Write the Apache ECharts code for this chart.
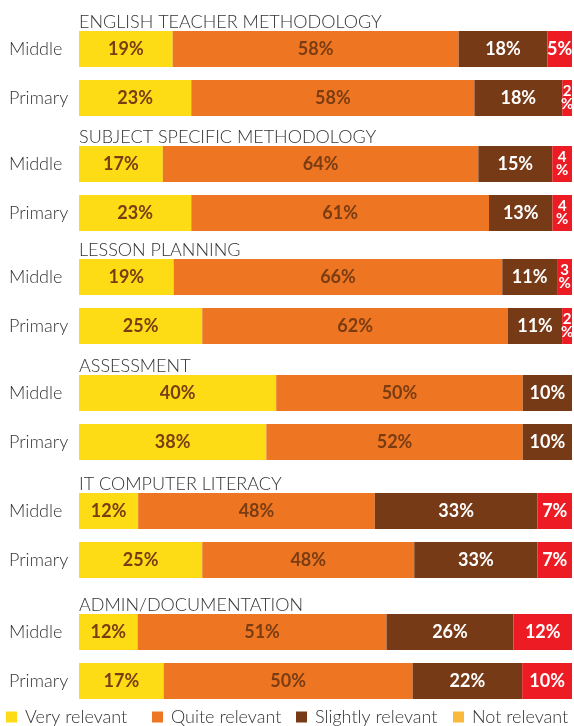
<!DOCTYPE html>
<html>
<head>
<meta charset="utf-8">
<script src="https://cdn.jsdelivr.net/npm/echarts@6/dist/echarts.min.js"></script>
<style>
html, body { margin: 0; padding: 0; background: #fff; }
#main { width: 574px; height: 726px; }
</style>
</head>
<body>
<div id="main"></div>
<script>
// topics, top to bottom
var groups = ['ENGLISH TEACHER METHODOLOGY', 'SUBJECT SPECIFIC METHODOLOGY', 'LESSON PLANNING',
              'ASSESSMENT', 'IT COMPUTER LITERACY', 'ADMIN/DOCUMENTATION'];
var levels = ['Middle', 'Primary'];
var seriesNames = ['Very relevant', 'Quite relevant', 'Slightly relevant', 'Not relevant'];

// printed percentages, one entry per bar (Middle, Primary for each topic)
var veryRelevant     = [19, 23, 17, 23, 19, 25, 40, 38, 12, 25, 12, 17];
var quiteRelevant    = [58, 58, 64, 61, 66, 62, 50, 52, 48, 48, 51, 50];
var slightlyRelevant = [18, 18, 15, 13, 11, 11, 10, 10, 33, 33, 26, 22];
var notRelevant      = [ 5,  2,  4,  4,  3,  2,  0,  0,  7,  7, 12, 10];
// IT primary bar is drawn with these lengths in the source, not its printed ones
var drawnOverride = { 9: [25, 43, 25, 7] };

var colors = ['#FDDC15', '#EE7623', '#773A17', '#ED1C24'];
var legendColors = ['#FDDC15', '#EE7623', '#773A17', '#F8B93C'];
var labelColors = ['#7A3C12', '#7A3C12', '#ffffff', '#ffffff'];
var font = 'Lato';

// centre of the Middle bar of every topic
var groupCenter = [49, 164, 277, 393, 511, 632];
var legendLeft = [6, 152, 296, 453];

var allValues = [veryRelevant, quiteRelevant, slightlyRelevant, notRelevant];

var myChart = echarts.init(document.getElementById('main'));

var grids = [], xAxes = [], yAxes = [], titles = [], series = [], legends = [];

groups.forEach(function (name, g) {
    grids.push({ left: 79, right: 2, top: groupCenter[g] - 24.5, height: 98 });
    xAxes.push({ gridIndex: g, type: 'value', min: 0, max: 100, show: false });
    yAxes.push({
        gridIndex: g, type: 'category', data: levels, inverse: true,
        axisLine: { show: false }, axisTick: { show: false },
        axisLabel: { align: 'left', margin: 70, fontSize: 18, color: '#333',
                     fontFamily: font, fontWeight: 300 }
    });
    titles.push({
        text: name, left: 79, top: groupCenter[g] - 36, padding: 0,
        textStyle: { fontSize: 18, color: '#333', fontFamily: font, fontWeight: 300 }
    });

    seriesNames.forEach(function (sName, s) {
        var data = [0, 1].map(function (k) {
            var row = 2 * g + k;
            var printed = allValues[s][row];
            var total = 0;
            allValues.forEach(function (arr) { total += arr[row]; });
            var len = drawnOverride[row] ? drawnOverride[row][s] : printed / total * 100;
            var item = { value: len, printed: printed };
            if (printed > 0 && printed <= 4) {
                item.label = { fontSize: 15, lineHeight: 13 };
            }
            return item;
        });
        series.push({
            name: sName,
            type: 'bar',
            stack: 'g' + g,
            xAxisIndex: g,
            yAxisIndex: g,
            barWidth: 36,
            data: data,
            itemStyle: { color: colors[s] },
            label: {
                show: true,
                position: 'inside',
                color: labelColors[s],
                fontSize: 18,
                fontWeight: 'bold',
                fontFamily: font,
                formatter: function (p) {
                    var v = p.data.printed;
                    if (!v) return '';
                    return v <= 4 ? v + '\n%' : v + '%';
                }
            }
        });
    });
});

seriesNames.forEach(function (sName, s) {
    legends.push({
        data: [{ name: sName, itemStyle: { color: legendColors[s] } }],
        left: legendLeft[s],
        top: 708,
        padding: 0,
        icon: 'rect',
        itemWidth: 11,
        itemHeight: 11,
        textStyle: { fontSize: 18, color: '#333', fontFamily: font, fontWeight: 300,
                     padding: [0, 0, 0, 3] }
    });
});

var option = {
    animation: false,
    title: titles,
    grid: grids,
    xAxis: xAxes,
    yAxis: yAxes,
    legend: legends,
    series: series
};

myChart.setOption(option);
</script>
</body>
</html>
